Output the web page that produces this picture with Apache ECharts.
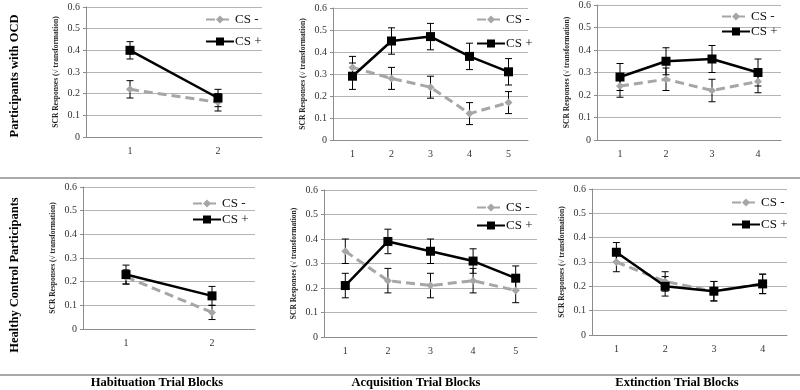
<!DOCTYPE html>
<html>
<head>
<meta charset="utf-8">
<script src="https://cdn.jsdelivr.net/npm/echarts@6/dist/echarts.min.js"></script>
<style>
  html, body { margin: 0; padding: 0; background: #fff; }
  #chart { width: 800px; height: 390px; }
</style>
</head>
<body>
<div id="chart"></div>
<script>
// SCR responses, CS- vs CS+, per phase
const cats2 = ["1", "2"];
const cats4 = ["1", "2", "3", "4"];
const cats5 = ["1", "2", "3", "4", "5"];
const yTicks = [0, 0.1, 0.2, 0.3, 0.4, 0.5, 0.6];

// Participants with OCD
const ocdHabMinus = [0.22, 0.16];
const ocdHabMinusErr = [0.04, 0.04];
const ocdHabPlus = [0.40, 0.18];
const ocdHabPlusErr = [0.04, 0.04];

const ocdAcqMinus = [0.33, 0.28, 0.24, 0.12, 0.17];
const ocdAcqMinusErr = [0.05, 0.05, 0.05, 0.05, 0.05];
const ocdAcqPlus = [0.29, 0.45, 0.47, 0.38, 0.31];
const ocdAcqPlusErr = [0.06, 0.06, 0.06, 0.06, 0.06];

const ocdExtMinus = [0.24, 0.27, 0.22, 0.26];
const ocdExtMinusErr = [0.05, 0.05, 0.05, 0.05];
const ocdExtPlus = [0.28, 0.35, 0.36, 0.30];
const ocdExtPlusErr = [0.06, 0.06, 0.06, 0.06];

// Healthy control participants
const hcHabMinus = [0.22, 0.07];
const hcHabMinusErr = [0.03, 0.03];
const hcHabPlus = [0.23, 0.14];
const hcHabPlusErr = [0.04, 0.04];

const hcAcqMinus = [0.35, 0.23, 0.21, 0.23, 0.19];
const hcAcqMinusErr = [0.05, 0.05, 0.05, 0.05, 0.05];
const hcAcqPlus = [0.21, 0.39, 0.35, 0.31, 0.24];
const hcAcqPlusErr = [0.05, 0.05, 0.05, 0.05, 0.05];

const hcExtMinus = [0.30, 0.22, 0.18, 0.21];
const hcExtMinusErr = [0.04, 0.04, 0.04, 0.04];
const hcExtPlus = [0.34, 0.20, 0.18, 0.21];
const hcExtPlusErr = [0.04, 0.04, 0.04, 0.04];

const SERIF = "'Liberation Serif', 'Times New Roman', serif";
const GREY = "#a6a6a6";

// layout of each small panel (pixels)
const panels = [
  { cats: cats2, minus: ocdHabMinus, minusErr: ocdHabMinusErr, plus: ocdHabPlus, plusErr: ocdHabPlusErr,
    grid: { left: 86, top: 7, width: 176, height: 130 }, legend: { left: 200, top: 8, gap: 9 } },
  { cats: cats5, minus: ocdAcqMinus, minusErr: ocdAcqMinusErr, plus: ocdAcqPlus, plusErr: ocdAcqPlusErr,
    grid: { left: 333, top: 8, width: 195, height: 132 }, legend: { left: 471, top: 8, gap: 11 } },
  { cats: cats4, minus: ocdExtMinus, minusErr: ocdExtMinusErr, plus: ocdExtPlus, plusErr: ocdExtPlusErr,
    grid: { left: 597, top: 4, width: 184, height: 136 }, legend: { left: 716, top: 5, gap: 2 } },
  { cats: cats2, minus: hcHabMinus, minusErr: hcHabMinusErr, plus: hcHabPlus, plusErr: hcHabPlusErr,
    grid: { left: 83, top: 187, width: 172, height: 142 }, legend: { left: 187, top: 192, gap: 3 } },
  { cats: cats5, minus: hcAcqMinus, minusErr: hcAcqMinusErr, plus: hcAcqPlus, plusErr: hcAcqPlusErr,
    grid: { left: 324, top: 190, width: 213, height: 147 }, legend: { left: 471, top: 196, gap: 5 } },
  { cats: cats4, minus: hcExtMinus, minusErr: hcExtMinusErr, plus: hcExtPlus, plusErr: hcExtPlusErr,
    grid: { left: 592, top: 189, width: 195, height: 146 }, legend: { left: 726, top: 191, gap: 9 } },
];

function errData(vals, errs) {
  return vals.map((v, i) => [i, v - errs[i], v + errs[i]]);
}

function renderErr(params, api) {
  const x = api.value(0);
  const top = api.coord([x, api.value(2)]);
  const bot = api.coord([x, api.value(1)]);
  const w = 3.5;
  const style = { stroke: "#000", lineWidth: 1 };
  return {
    type: "group",
    children: [
      { type: "line", shape: { x1: top[0], y1: top[1], x2: bot[0], y2: bot[1] }, style },
      { type: "line", shape: { x1: top[0] - w, y1: top[1], x2: top[0] + w, y2: top[1] }, style },
      { type: "line", shape: { x1: bot[0] - w, y1: bot[1], x2: bot[0] + w, y2: bot[1] }, style },
    ],
  };
}

const grids = [], xAxes = [], yAxes = [], series = [], legends = [];

panels.forEach((p, i) => {
  grids.push(p.grid);
  xAxes.push({
    type: "category",
    gridIndex: i,
    data: p.cats,
    axisLine: { lineStyle: { color: "#8c8c8c" } },
    axisTick: { show: false },
    axisLabel: { color: "#333", fontFamily: SERIF, fontSize: 10, margin: 9 },
  });
  yAxes.push({
    type: "value",
    gridIndex: i,
    min: 0,
    max: yTicks[yTicks.length - 1],
    interval: 0.1,
    name: "SCR Responses (√ transformation)",
    nameLocation: "middle",
    nameRotate: 90,
    nameGap: 26,
    nameTextStyle: { fontFamily: SERIF, fontSize: 7.5, fontWeight: "bold", color: "#222" },
    axisLine: { show: true, lineStyle: { color: "#8c8c8c" } },
    axisTick: { show: true, length: 3, lineStyle: { color: "#8c8c8c" } },
    axisLabel: { color: "#333", fontFamily: SERIF, fontSize: 10, margin: 6 },
    splitLine: { lineStyle: { color: "#b4b4b4", width: 1 } },
  });

  series.push({
    type: "custom", xAxisIndex: i, yAxisIndex: i, z: 1, silent: true,
    renderItem: renderErr, data: errData(p.minus, p.minusErr),
  });
  series.push({
    type: "custom", xAxisIndex: i, yAxisIndex: i, z: 1, silent: true,
    renderItem: renderErr, data: errData(p.plus, p.plusErr),
  });
  series.push({
    name: "CS -", type: "line", xAxisIndex: i, yAxisIndex: i, z: 2,
    data: p.minus, symbol: "diamond", symbolSize: 8, showAllSymbol: true,
    itemStyle: { color: GREY },
    lineStyle: { color: GREY, width: 3, type: [9, 5] },
  });
  series.push({
    name: "CS +", type: "line", xAxisIndex: i, yAxisIndex: i, z: 3,
    data: p.plus, symbol: "rect", symbolSize: 9,
    itemStyle: { color: "#000" },
    lineStyle: { color: "#000", width: 2.5 },
  });

  legends.push({
    data: ["CS -", "CS +"],
    orient: "vertical",
    left: p.legend.left,
    top: p.legend.top,
    itemGap: p.legend.gap,
    itemWidth: 28,
    itemHeight: 10,
    selectedMode: false,
    textStyle: { fontFamily: SERIF, fontSize: 13, color: "#111", padding: [0, 0, 0, -4] },
  });
});

const chart = echarts.init(document.getElementById("chart"), null, { renderer: "canvas" });
chart.setOption({
  animation: false,
  backgroundColor: "#fff",
  grid: grids,
  xAxis: xAxes,
  yAxis: yAxes,
  legend: legends,
  series: series,
  graphic: [
    { type: "line", shape: { x1: 0, y1: 178, x2: 800, y2: 178 }, style: { stroke: "#8c8c8c", lineWidth: 1.5 } },
    { type: "line", shape: { x1: 0, y1: 375, x2: 800, y2: 375 }, style: { stroke: "#8c8c8c", lineWidth: 1.5 } },
    { type: "text", x: 15, y: 76, rotation: Math.PI / 2,
      style: { text: "Participants with OCD", font: "bold 12.5px " + SERIF, fill: "#000", align: "center", verticalAlign: "middle" } },
    { type: "text", x: 15, y: 275, rotation: Math.PI / 2,
      style: { text: "Healthy Control Participants", font: "bold 12.5px " + SERIF, fill: "#000", align: "center", verticalAlign: "middle" } },
    { type: "text", x: 157, y: 383,
      style: { text: "Habituation Trial Blocks", font: "bold 12.5px " + SERIF, fill: "#000", align: "center", verticalAlign: "middle" } },
    { type: "text", x: 416, y: 383,
      style: { text: "Acquisition Trial Blocks", font: "bold 12.5px " + SERIF, fill: "#000", align: "center", verticalAlign: "middle" } },
    { type: "text", x: 677, y: 383,
      style: { text: "Extinction Trial Blocks", font: "bold 12.5px " + SERIF, fill: "#000", align: "center", verticalAlign: "middle" } },
  ],
});
</script>
</body>
</html>
